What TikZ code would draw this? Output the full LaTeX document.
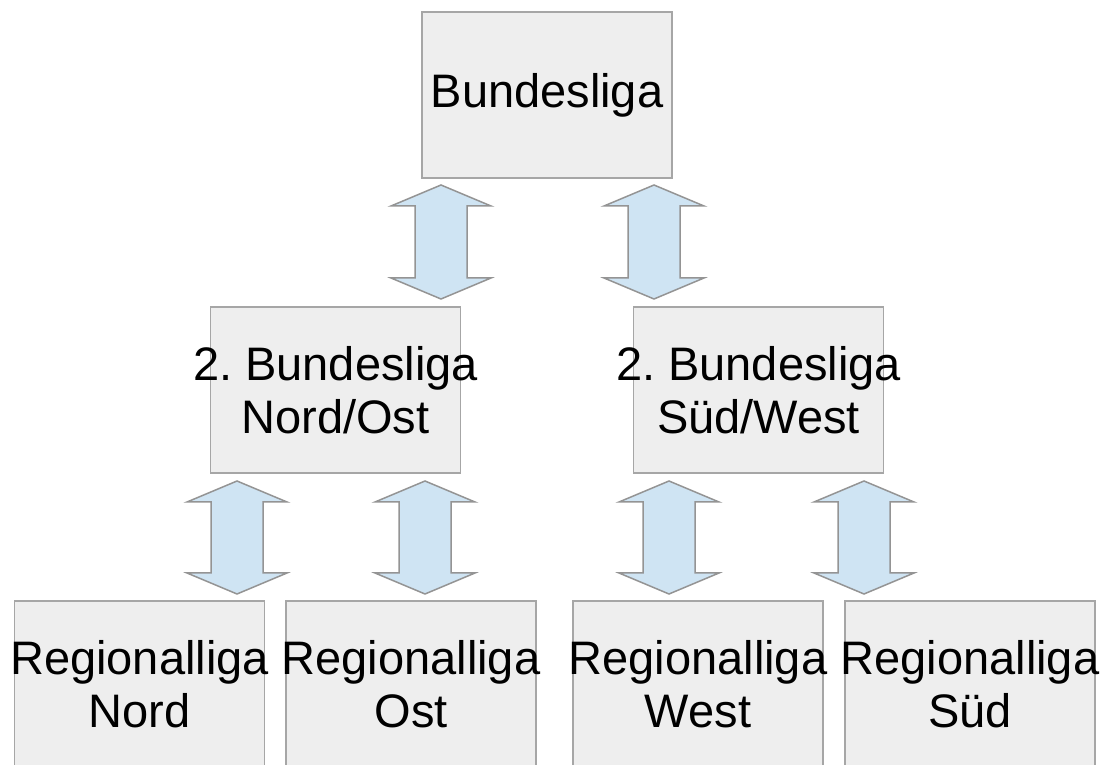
\documentclass[tikz,border=0pt]{standalone}
\usepackage{fontspec}
\setmainfont{Liberation Sans}
\frenchspacing
\definecolor{boxfill}{HTML}{EEEEEE}
\definecolor{boxline}{HTML}{A6A6A6}
\definecolor{arrfill}{HTML}{CFE4F3}
\definecolor{arrline}{HTML}{949494}
\newcommand\twolines[2]{\makebox[0pt]{#1}\\\makebox[0pt]{#2}}
\newcommand\dbarrow[4]{% name, cx, ytop, ybot
  \draw[arrowshape] ({#2},{#3}) -- ({#2+50},{#3-21}) -- ({#2+26},{#3-21}) -- ({#2+26},{#4+21})
    -- ({#2+50},{#4+21}) -- ({#2},{#4}) -- ({#2-50},{#4+21}) -- ({#2-26},{#4+21})
    -- ({#2-26},{#3-21}) -- ({#2-50},{#3-21}) -- cycle;
  \coordinate (#1) at ({#2},{(#3+#4)/2});}
\begin{document}
\begin{tikzpicture}[x=1pt,y=1pt,
  league/.style={draw=boxline, fill=boxfill, line width=1.5pt, minimum width=250pt, minimum height=166pt,
    inner sep=0pt, align=center, font=\fontsize{47}{53}\selectfont, text=black},
  arrowshape/.style={draw=arrline, fill=arrfill, line width=1.5pt, line join=miter}]
\useasboundingbox (0,0) rectangle (1104,764);
\clip (0,0) rectangle (1104,764);
\node[league] (bl) at (547,669) {Bundesliga};
\node[league] (no) at (335.5,374) {\twolines{2. Bundesliga}{Nord/Ost}};
\node[league] (sw) at (758.5,374) {\twolines{2. Bundesliga}{Süd/West}};
\node[league] (rn) at (139.5,80) {\twolines{Regionalliga}{Nord}};
\node[league] (ro) at (411,80) {\twolines{Regionalliga}{Ost}};
\node[league] (rw) at (698,80) {\twolines{Regionalliga}{West}};
\node[league] (rs) at (970,80) {\twolines{Regionalliga}{Süd}};
\dbarrow{a1}{441}{579}{465}
\dbarrow{a2}{654}{579}{465}
\dbarrow{a3}{237}{283}{170}
\dbarrow{a4}{425}{283}{170}
\dbarrow{a5}{669}{283}{170}
\dbarrow{a6}{864}{283}{170}
\end{tikzpicture}
\end{document}
